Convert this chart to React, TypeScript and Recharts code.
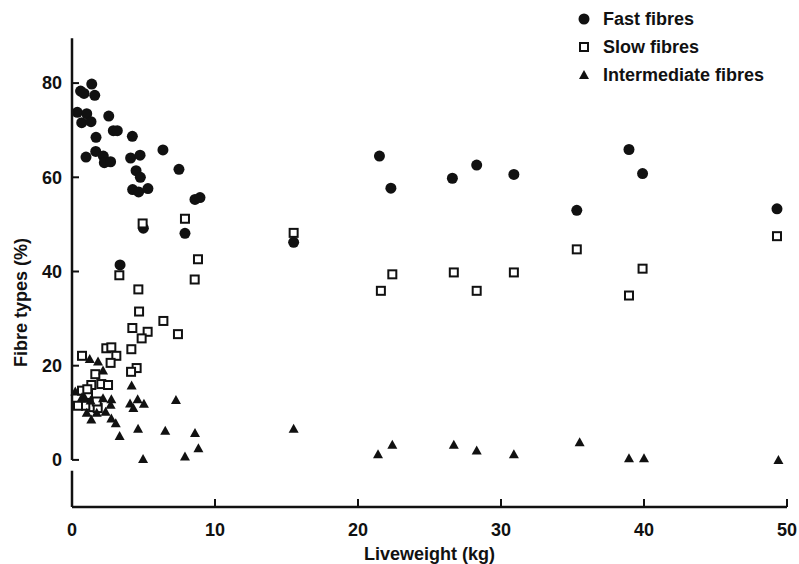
import { ScatterChart, Scatter, XAxis, YAxis, ReferenceLine, Legend } from 'recharts';

// Liveweight (kg), fibre type (%)
const fastFibres: [number, number][] = [
  [1.38, 79.8], [0.6, 78.3], [0.84, 77.8], [1.59, 77.4], [0.37, 73.8], [1.03, 73.5],
  [0.68, 71.6], [1.33, 71.8], [2.57, 73], [2.89, 69.9], [3.17, 69.9], [1.68, 68.5],
  [4.22, 68.7], [1.66, 65.5], [0.98, 64.3], [2.19, 64.5], [2.26, 63.1], [2.7, 63.3],
  [4.1, 64.1], [4.76, 64.7], [6.36, 65.8], [4.48, 61.4], [4.78, 60], [7.48, 61.7],
  [4.24, 57.4], [4.66, 56.9], [5.31, 57.6], [8.6, 55.3], [8.95, 55.7], [4.99, 49.2],
  [7.9, 48.1], [3.36, 41.4], [15.5, 46.2], [21.5, 64.5], [22.3, 57.7], [26.6, 59.8],
  [28.3, 62.6], [30.9, 60.6], [35.3, 53.0], [38.95, 65.9], [39.9, 60.8], [49.3, 53.3],
];

const slowFibres: [number, number][] = [
  [4.94, 50.2], [7.9, 51.2], [3.31, 39.2], [15.5, 48.2], [8.81, 42.6], [8.58, 38.3],
  [22.4, 39.4], [21.6, 35.9], [26.7, 39.8], [28.3, 35.9], [30.9, 39.8], [35.3, 44.7],
  [39.9, 40.6], [38.95, 34.9], [49.3, 47.5], [4.64, 36.2], [4.69, 31.5], [6.39, 29.5],
  [4.22, 28], [5.29, 27.2], [4.87, 25.8], [7.41, 26.7], [4.15, 23.5], [2.4, 23.7],
  [2.75, 23.9], [3.1, 22.1], [2.7, 20.6], [0.7, 22.1], [4.52, 19.5], [4.13, 18.7],
  [1.63, 18.2], [1.35, 15.9], [2.05, 16.1], [2.52, 15.9], [0.7, 14.7], [1.12, 13.8],
  [0.42, 11.5], [0.98, 11.5], [1.49, 11.2], [1.8, 11], [1.73, 12.4], [1.07, 15],
];

const intermediateFibres: [number, number][] = [
  [1.24, 21.4], [1.82, 20.9], [2.17, 19], [0.23, 14.5], [0.7, 13.3], [0.91, 13.1],
  [1.3, 12.6], [2.17, 13.1], [2.75, 12.9], [2.7, 11.7], [1.03, 10.0], [1.73, 10.0],
  [2.35, 10.2], [1.35, 8.6], [2.75, 8.8], [3.06, 7.8], [3.33, 5.1], [4.17, 15.8],
  [4.59, 12.9], [4.06, 12.0], [5.03, 11.9], [4.29, 11.0], [7.27, 12.7], [4.62, 6.6],
  [6.52, 6.2], [8.6, 5.7], [8.84, 2.5], [7.9, 0.7], [4.97, 0.2], [15.5, 6.6],
  [21.4, 1.2], [22.4, 3.2], [26.7, 3.2], [28.3, 2.0], [30.9, 1.2], [35.5, 3.75],
  [38.95, 0.35], [40.0, 0.35], [49.4, 0.0],
];

const xTicks = [0, 10, 20, 30, 40, 50];
const yTicks = [0, 20, 40, 60, 80];

const toRows = (pts: [number, number][]) => pts.map(([w, pct]) => ({ w, pct }));

const FONT = '"Liberation Sans", Arial, sans-serif';
const INK = '#111';
const textStyle = { fill: INK, fontSize: 18, fontWeight: 700, fontFamily: FONT };

const Dot = (p: any) => <circle cx={p.cx} cy={p.cy} r={5.5} fill={INK} />;
const Box = (p: any) => (
  <rect x={p.cx - 4} y={p.cy - 4} width={8} height={8} fill="#fff" stroke={INK} strokeWidth={2} />
);
const Tri = (p: any) => (
  <polygon
    points={`${p.cx},${p.cy - 5} ${p.cx + 5},${p.cy + 4} ${p.cx - 5},${p.cy + 4}`}
    fill={INK}
  />
);

const legendItems = [
  { name: 'Fast fibres', Shape: Dot },
  { name: 'Slow fibres', Shape: Box },
  { name: 'Intermediate fibres', Shape: Tri },
];

function LegendBox() {
  return (
    <div style={{ fontFamily: FONT, fontSize: 18, fontWeight: 700, color: INK }}>
      {legendItems.map(({ name, Shape }) => (
        <div key={name} style={{ display: 'flex', alignItems: 'center', height: 28 }}>
          <svg width={20} height={16} style={{ marginRight: 9 }}>
            <Shape cx={10} cy={8} />
          </svg>
          {name}
        </div>
      ))}
    </div>
  );
}

export default function App() {
  return (
    <div style={{ position: 'absolute', left: 0, top: 0, background: '#fff' }}>
      <ScatterChart width={799} height={564} margin={{ top: 36, right: 12, bottom: 0, left: 0 }}>
        <XAxis
          type="number"
          dataKey="w"
          domain={[0, 50]}
          ticks={xTicks}
          height={57}
          axisLine={{ stroke: INK, strokeWidth: 2.5 }}
          tickLine={{ stroke: INK, strokeWidth: 2 }}
          tickSize={-8}
          tickMargin={24}
          tick={textStyle}
          label={{
            content: (props: any) => {
              const vb = props.viewBox;
              return (
                <text x={vb.x + vb.width / 2} y={vb.y + 53} textAnchor="middle" {...textStyle}>
                  Liveweight (kg)
                </text>
              );
            },
          }}
        />
        <YAxis
          type="number"
          dataKey="pct"
          domain={[-10, 90]}
          ticks={yTicks}
          width={72}
          axisLine={false}
          tickLine={{ stroke: INK, strokeWidth: 2 }}
          tickSize={-7}
          tickMargin={17}
          tick={textStyle}
          label={{
            content: (props: any) => {
              const vb = props.viewBox;
              const cx = 27;
              const cy = vb.y + vb.height / 2 + 31;
              return (
                <text
                  x={cx}
                  y={cy}
                  transform={`rotate(-90 ${cx} ${cy})`}
                  textAnchor="middle"
                  {...textStyle}
                >
                  Fibre types (%)
                </text>
              );
            },
          }}
        />
        <ReferenceLine
          segment={[{ x: 0, y: 0 }, { x: 0, y: 89.5 }]}
          stroke={INK}
          strokeWidth={2.5}
          ifOverflow="visible"
        />
        <ReferenceLine
          segment={[{ x: 0, y: -2.3 }, { x: 0, y: -10 }]}
          stroke={INK}
          strokeWidth={2.5}
          ifOverflow="visible"
        />
        <Legend
          layout="vertical"
          align="center"
          verticalAlign="middle"
          content={() => <LegendBox />}
          wrapperStyle={{ position: 'absolute', left: 574, top: 5, width: 220, height: 90 }}
        />
        <Scatter name="Fast fibres" data={toRows(fastFibres)} shape={Dot} isAnimationActive={false} />
        <Scatter name="Slow fibres" data={toRows(slowFibres)} shape={Box} isAnimationActive={false} />
        <Scatter
          name="Intermediate fibres"
          data={toRows(intermediateFibres)}
          shape={Tri}
          isAnimationActive={false}
        />
      </ScatterChart>
    </div>
  );
}
